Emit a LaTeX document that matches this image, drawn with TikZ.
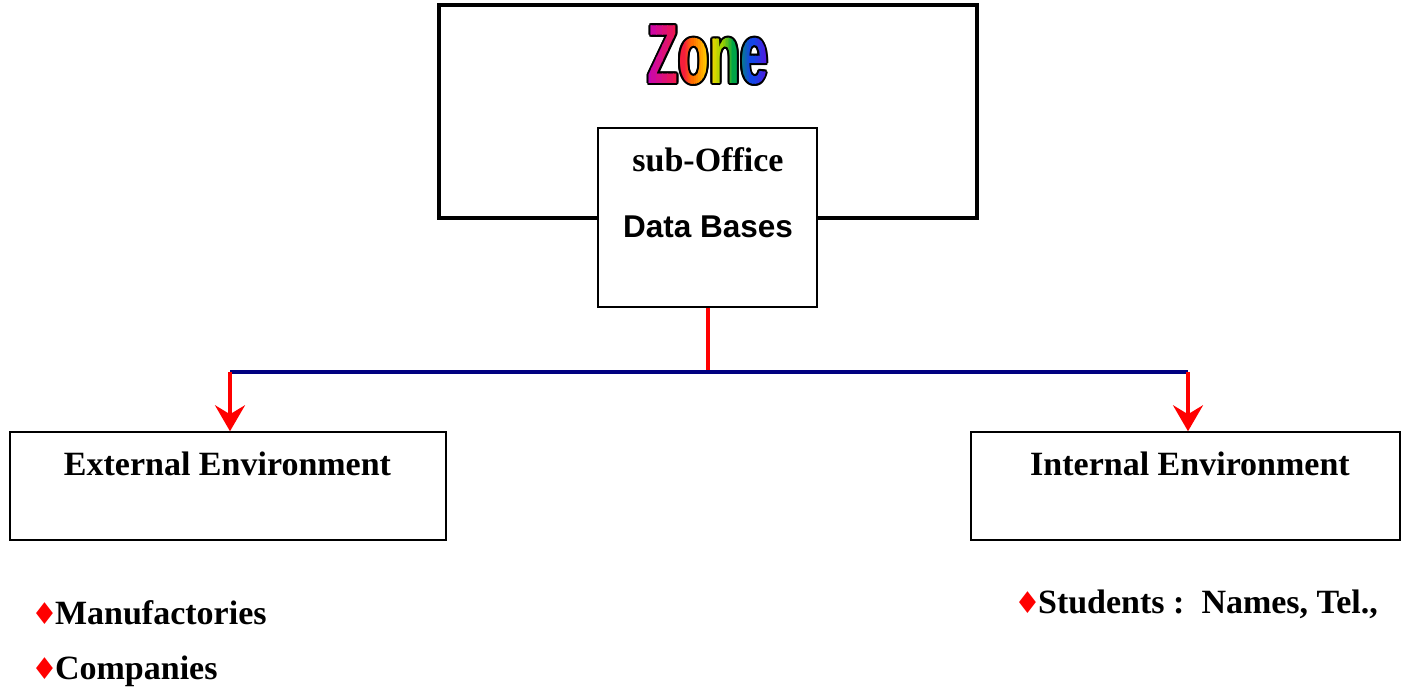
\documentclass[tikz,border=0pt]{standalone}
\usepackage{fontspec}
\setmainfont{Liberation Serif}
\newfontfamily\arialfont{Liberation Sans}
\newfontfamily\symfont{DejaVu Sans}
\usepackage{graphicx}
\usetikzlibrary{arrows.meta}
\definecolor{navyline}{RGB}{0,0,128}
\definecolor{zmag}{RGB}{190,0,200}
\definecolor{zred}{RGB}{245,30,60}
\definecolor{zorange}{RGB}{255,110,0}
\definecolor{zyellow}{RGB}{255,215,0}
\definecolor{zygreen}{RGB}{160,210,0}
\definecolor{zgreen}{RGB}{0,165,70}
\definecolor{zblue}{RGB}{20,70,230}
\definecolor{zviolet}{RGB}{120,0,220}
\newcommand{\zoneword}{\scalebox{0.6}[1]{\fontsize{84}{84}\arialfont\bfseries Zone}}
\tikzset{
  box/.style={draw=black, line width=1.5pt, fill=white, inner sep=0pt},
  lbl/.style={font=\fontsize{34}{40}\selectfont\bfseries, inner sep=0pt, anchor=base},
  bul/.style={font=\fontsize{34}{40}\selectfont\bfseries, inner sep=0pt, anchor=base west},
  redarrow/.style={draw=red, line width=3.5pt, -{Stealth[length=26pt,width=30pt,inset=9pt]}},
  redline/.style={draw=red, line width=3.5pt},
  navy/.style={draw=navyline, line width=3.5pt}
}
\newcommand{\dia}{{\color{red}\symfont\fontsize{30}{30}\selectfont ♦}\kern-3pt}
\begin{document}
\begin{tikzpicture}[x=1pt,y=1pt]
\useasboundingbox (0,0) rectangle (1401,690);
% Zone frame
\node[draw=black, line width=3.5pt, minimum width=538pt, minimum height=213pt, inner sep=0pt] (zone) at (708,578.5) {};
% Zone word: black outline
\foreach \a in {0,30,...,330}{
  \node[inner sep=0pt, text=black] at ([shift={(\a:2)}]708,635) {\zoneword};
}
% Zone word: rainbow fill in thin vertical slices
\foreach \xa/\xb/\ca/\cb in {640/684/zmag/zred, 684/692/zred/zorange, 692/710/zorange/zyellow, 710/722/zyellow/zygreen, 722/734/zygreen/zgreen, 734/752/zgreen/zblue, 752/776/zblue/zviolet}{
  \foreach \k in {0,...,7}{
    \pgfmathsetmacro\xlo{\xa+(\xb-\xa)*\k/8}
    \pgfmathsetmacro\xhi{\xa+(\xb-\xa)*(\k+1)/8+0.4}
    \pgfmathsetmacro\pp{100-100*\k/7}
    \colorlet{slc}{\ca!\pp!\cb}
    \begin{scope}
      \clip (\xlo,595) rectangle (\xhi,675);
      \node[inner sep=0pt, text=slc] at (708,635) {\zoneword};
    \end{scope}
  }
}
% sub-Office box
\node[box, minimum width=219pt, minimum height=179pt] (sub) at (707.5,472.5) {};
\node[lbl] (subt) at (708,518) {sub-Office};
\node[lbl, font=\fontsize{31.5}{36}\selectfont\arialfont\bfseries] (dbt) at (708,452) {Data Bases};
% environment boxes
\node[box, minimum width=436pt, minimum height=108pt] (ext) at (228,204) {};
\node[box, minimum width=429pt, minimum height=108pt] (int) at (1185.5,204) {};
\node[lbl] (extt) at (227.5,214) {External Environment};
\node[lbl] (intt) at (1190,214) {Internal Environment};
% connectors
\coordinate (j) at (708,318);
\coordinate (jl) at (230,318);
\coordinate (jr) at (1188,318);
\draw[redline] (sub.south -| j) -- (j);
\draw[navy] (jl) -- (jr);
\draw[redarrow] (jl) -- (jl |- ext.north);
\draw[redarrow] (jr) -- (jr |- int.north);
% bullet lists
\node[bul] (m1) at (31,65) {\dia Manufactories};
\node[bul] (m2) at (31,10) {\dia Companies};
\node[bul] (s1) at (1014,76) {\dia Students :~~Names, Tel.,};
\end{tikzpicture}
\end{document}
